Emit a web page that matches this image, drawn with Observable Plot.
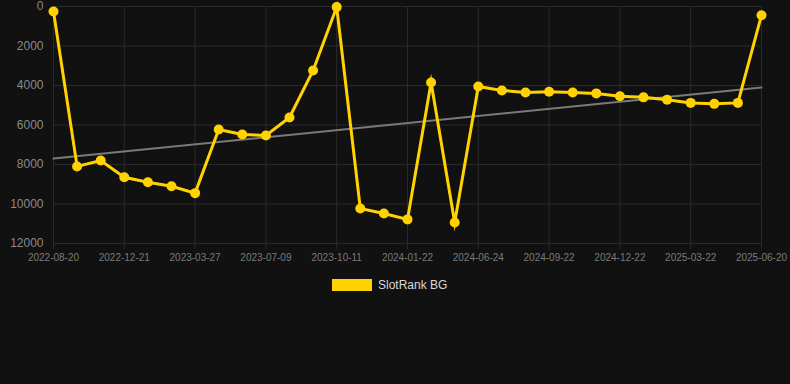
<!DOCTYPE html>
<html>
<head>
<meta charset="utf-8">
<script src="https://cdn.jsdelivr.net/npm/d3@7"></script>
<script src="https://cdn.jsdelivr.net/npm/@observablehq/plot@0.6"></script>
<style>
  html, body { margin: 0; padding: 0; background: #111111; width: 790px; height: 384px; overflow: hidden; }
  #chart { position: absolute; left: 0; top: 0; }
  #legend { position: absolute; left: 332px; top: 278px; display: flex; align-items: center; font-family: "Liberation Sans", Arial, sans-serif; font-size: 12px; color: #d8d8d8; }
  #legend .sw { width: 40px; height: 12px; background: #FFD200; margin-right: 6px; }
</style>
</head>
<body>
<div id="chart"></div>
<div id="legend"><div class="sw"></div><span>SlotRank BG</span></div>
<script>
const dates = [
  "2022-08-20","2022-10-01","2022-11-11","2022-12-21","2023-02-01","2023-03-01",
  "2023-03-27","2023-05-01","2023-06-05","2023-07-09","2023-08-10","2023-09-10",
  "2023-10-11","2023-11-20","2023-12-21","2024-01-22","2024-03-12","2024-05-01",
  "2024-06-24","2024-07-24","2024-08-23","2024-09-22","2024-10-22","2024-11-21",
  "2024-12-22","2025-01-21","2025-02-20","2025-03-22","2025-04-21","2025-05-21",
  "2025-06-20"
];
const ranks = [
  250, 8100, 7800, 8650, 8900, 9100,
  9450, 6230, 6480, 6530, 5620, 3240,
  30, 10230, 10480, 10780, 3850, 10940,
  4050, 4250, 4350, 4320, 4350, 4400,
  4540, 4600, 4720, 4880, 4930, 4880,
  440
];
const tickLabels = ["2022-08-20","2022-12-21","2023-03-27","2023-07-09","2023-10-11","2024-01-22","2024-06-24","2024-09-22","2024-12-22","2025-03-22","2025-06-20"];
const yTicks = [0, 2000, 4000, 6000, 8000, 10000, 12000];
const trendDates = ["2022-08-20", "2025-06-20"];
const trendValues = [7700, 4100];

const idx = d => dates.indexOf(d);
const data = dates.map((d, i) => ({i, rank: ranks[i]}));
const trend = trendDates.map((d, k) => ({i: idx(d), rank: trendValues[k]}));
const xTicks = tickLabels.map(idx);

const plot = Plot.plot({
  width: 790,
  height: 265,
  marginLeft: 53,
  marginRight: 29,
  marginTop: 6,
  marginBottom: 22,
  style: { background: "transparent", fontFamily: "Liberation Sans, Arial, sans-serif" },
  x: { type: "linear", domain: [0, dates.length - 1] },
  y: { domain: [0, 12000], reverse: true },
  marks: [
    Plot.gridY(yTicks, { stroke: "#2a2a2a", strokeOpacity: 1 }),
    Plot.gridX(xTicks, { stroke: "#2a2a2a", strokeOpacity: 1 }),
    Plot.axisX(xTicks, { tickSize: 6, stroke: "#2a2a2a", tickPadding: 4, fill: "#7a7a7a", fontSize: 10, label: null, tickFormat: i => dates[i] }),
    Plot.axisY(yTicks, { tickSize: 0, tickPadding: 10, fill: "#8a8a8a", fontSize: 12, label: null, tickFormat: d3.format("d") }),
    Plot.line(trend, { x: "i", y: "rank", stroke: "#7a7a7a", strokeWidth: 2 }),
    Plot.line(data, { x: "i", y: "rank", stroke: "#FFD200", strokeWidth: 3, strokeLinejoin: "miter", strokeMiterlimit: 10 }),
    Plot.dot(data, { x: "i", y: "rank", r: 5, fill: "#FFD200", stroke: "none" })
  ]
});
document.getElementById("chart").appendChild(plot);
</script>
</body>
</html>
